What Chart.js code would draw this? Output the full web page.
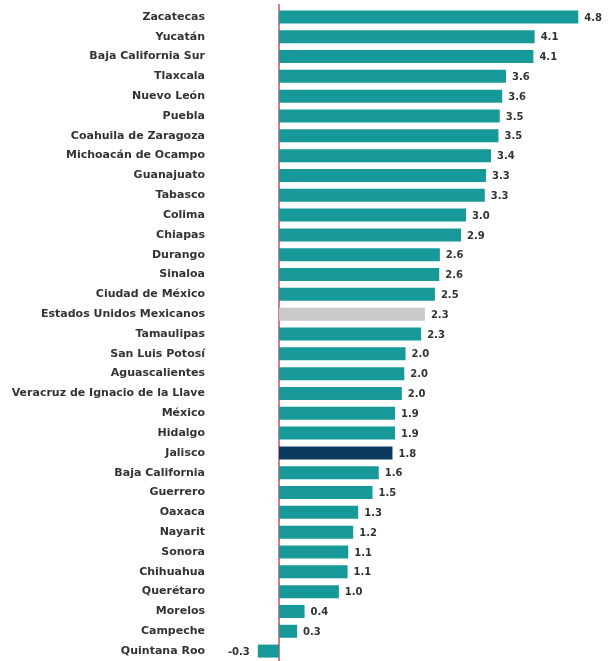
<!DOCTYPE html>
<html>
<head>
<meta charset="utf-8">
<script src="https://cdn.jsdelivr.net/npm/chart.js@4/dist/chart.umd.min.js"></script>
<style>
html,body{margin:0;padding:0;background:#fff;}
#wrap{width:613px;height:661px;position:relative;}
</style>
</head>
<body>
<div id="wrap"><canvas id="c"></canvas></div>
<script>
const categories = ["Zacatecas","Yucatán","Baja California Sur","Tlaxcala","Nuevo León","Puebla","Coahuila de Zaragoza","Michoacán de Ocampo","Guanajuato","Tabasco","Colima","Chiapas","Durango","Sinaloa","Ciudad de México","Estados Unidos Mexicanos","Tamaulipas","San Luis Potosí","Aguascalientes","Veracruz de Ignacio de la Llave","México","Hidalgo","Jalisco","Baja California","Guerrero","Oaxaca","Nayarit","Sonora","Chihuahua","Querétaro","Morelos","Campeche","Quintana Roo"];
const values = [4.80,4.10,4.08,3.64,3.58,3.54,3.52,3.40,3.32,3.30,3.00,2.92,2.58,2.57,2.50,2.34,2.28,2.03,2.01,1.97,1.86,1.86,1.82,1.60,1.50,1.27,1.19,1.11,1.10,0.96,0.41,0.29,-0.34];
const valueLabels = ["4.8","4.1","4.1","3.6","3.6","3.5","3.5","3.4","3.3","3.3","3.0","2.9","2.6","2.6","2.5","2.3","2.3","2.0","2.0","2.0","1.9","1.9","1.8","1.6","1.5","1.3","1.2","1.1","1.1","1.0","0.4","0.3","-0.3"];

const TEAL = "#17999a", NAVY = "#0c3a5f", GREY = "#c9c9c9";
const colors = categories.map(c => c === "Jalisco" ? NAVY : (c === "Estados Unidos Mexicanos" ? GREY : TEAL));
const FONT = "'DejaVu Sans', 'Liberation Sans', Arial, sans-serif";

const labelPlugin = {
  id: "valueLabels",
  afterDatasetsDraw(chart) {
    const ctx = chart.ctx;
    const meta = chart.getDatasetMeta(0);
    ctx.save();
    ctx.font = "bold 10px " + FONT;
    ctx.fillStyle = "#333333";
    ctx.textBaseline = "middle";
    meta.data.forEach((bar, i) => {
      const v = values[i];
      if (v >= 0) { ctx.textAlign = "left"; ctx.fillText(valueLabels[i], bar.x + 6, bar.y + 1); }
      else { ctx.textAlign = "right"; ctx.fillText(valueLabels[i], bar.x - 8, bar.y + 1); }
    });
    ctx.restore();
  }
};

const zeroLinePlugin = {
  id: "zeroLine",
  beforeDatasetsDraw(chart) {
    const ctx = chart.ctx;
    const x = chart.scales.x.getPixelForValue(0);
    ctx.save();
    ctx.strokeStyle = "#c8505c";
    ctx.lineWidth = 1.5;
    ctx.beginPath();
    ctx.moveTo(x, chart.chartArea.top - 3);
    ctx.lineTo(x, chart.chartArea.bottom);
    ctx.stroke();
    ctx.restore();
  }
};

new Chart(document.getElementById("c"), {
  type: "bar",
  data: {
    labels: categories,
    datasets: [{
      data: values,
      backgroundColor: colors,
      borderWidth: 0,
      categoryPercentage: 0.8,
      barPercentage: 0.82
    }]
  },
  options: {
    indexAxis: "y",
    responsive: true,
    maintainAspectRatio: false,
    animation: false,
    layout: { padding: { top: 7, bottom: 0, left: 4, right: 0 } },
    plugins: { legend: { display: false }, tooltip: { enabled: false } },
    scales: {
      x: {
        min: -1.107, max: 5.357,
        display: false
      },
      y: {
        afterFit(scale) { scale.width = 206; scale.paddingTop = 0; scale.paddingBottom = 0; },
        ticks: {
          color: "#333333",
          font: { family: FONT, size: 11, weight: "bold" },
          padding: 5,
          autoSkip: false
        },
        border: { display: false },
        grid: { display: false, drawTicks: false }
      }
    }
  },
  plugins: [labelPlugin, zeroLinePlugin]
});
</script>
</body>
</html>
